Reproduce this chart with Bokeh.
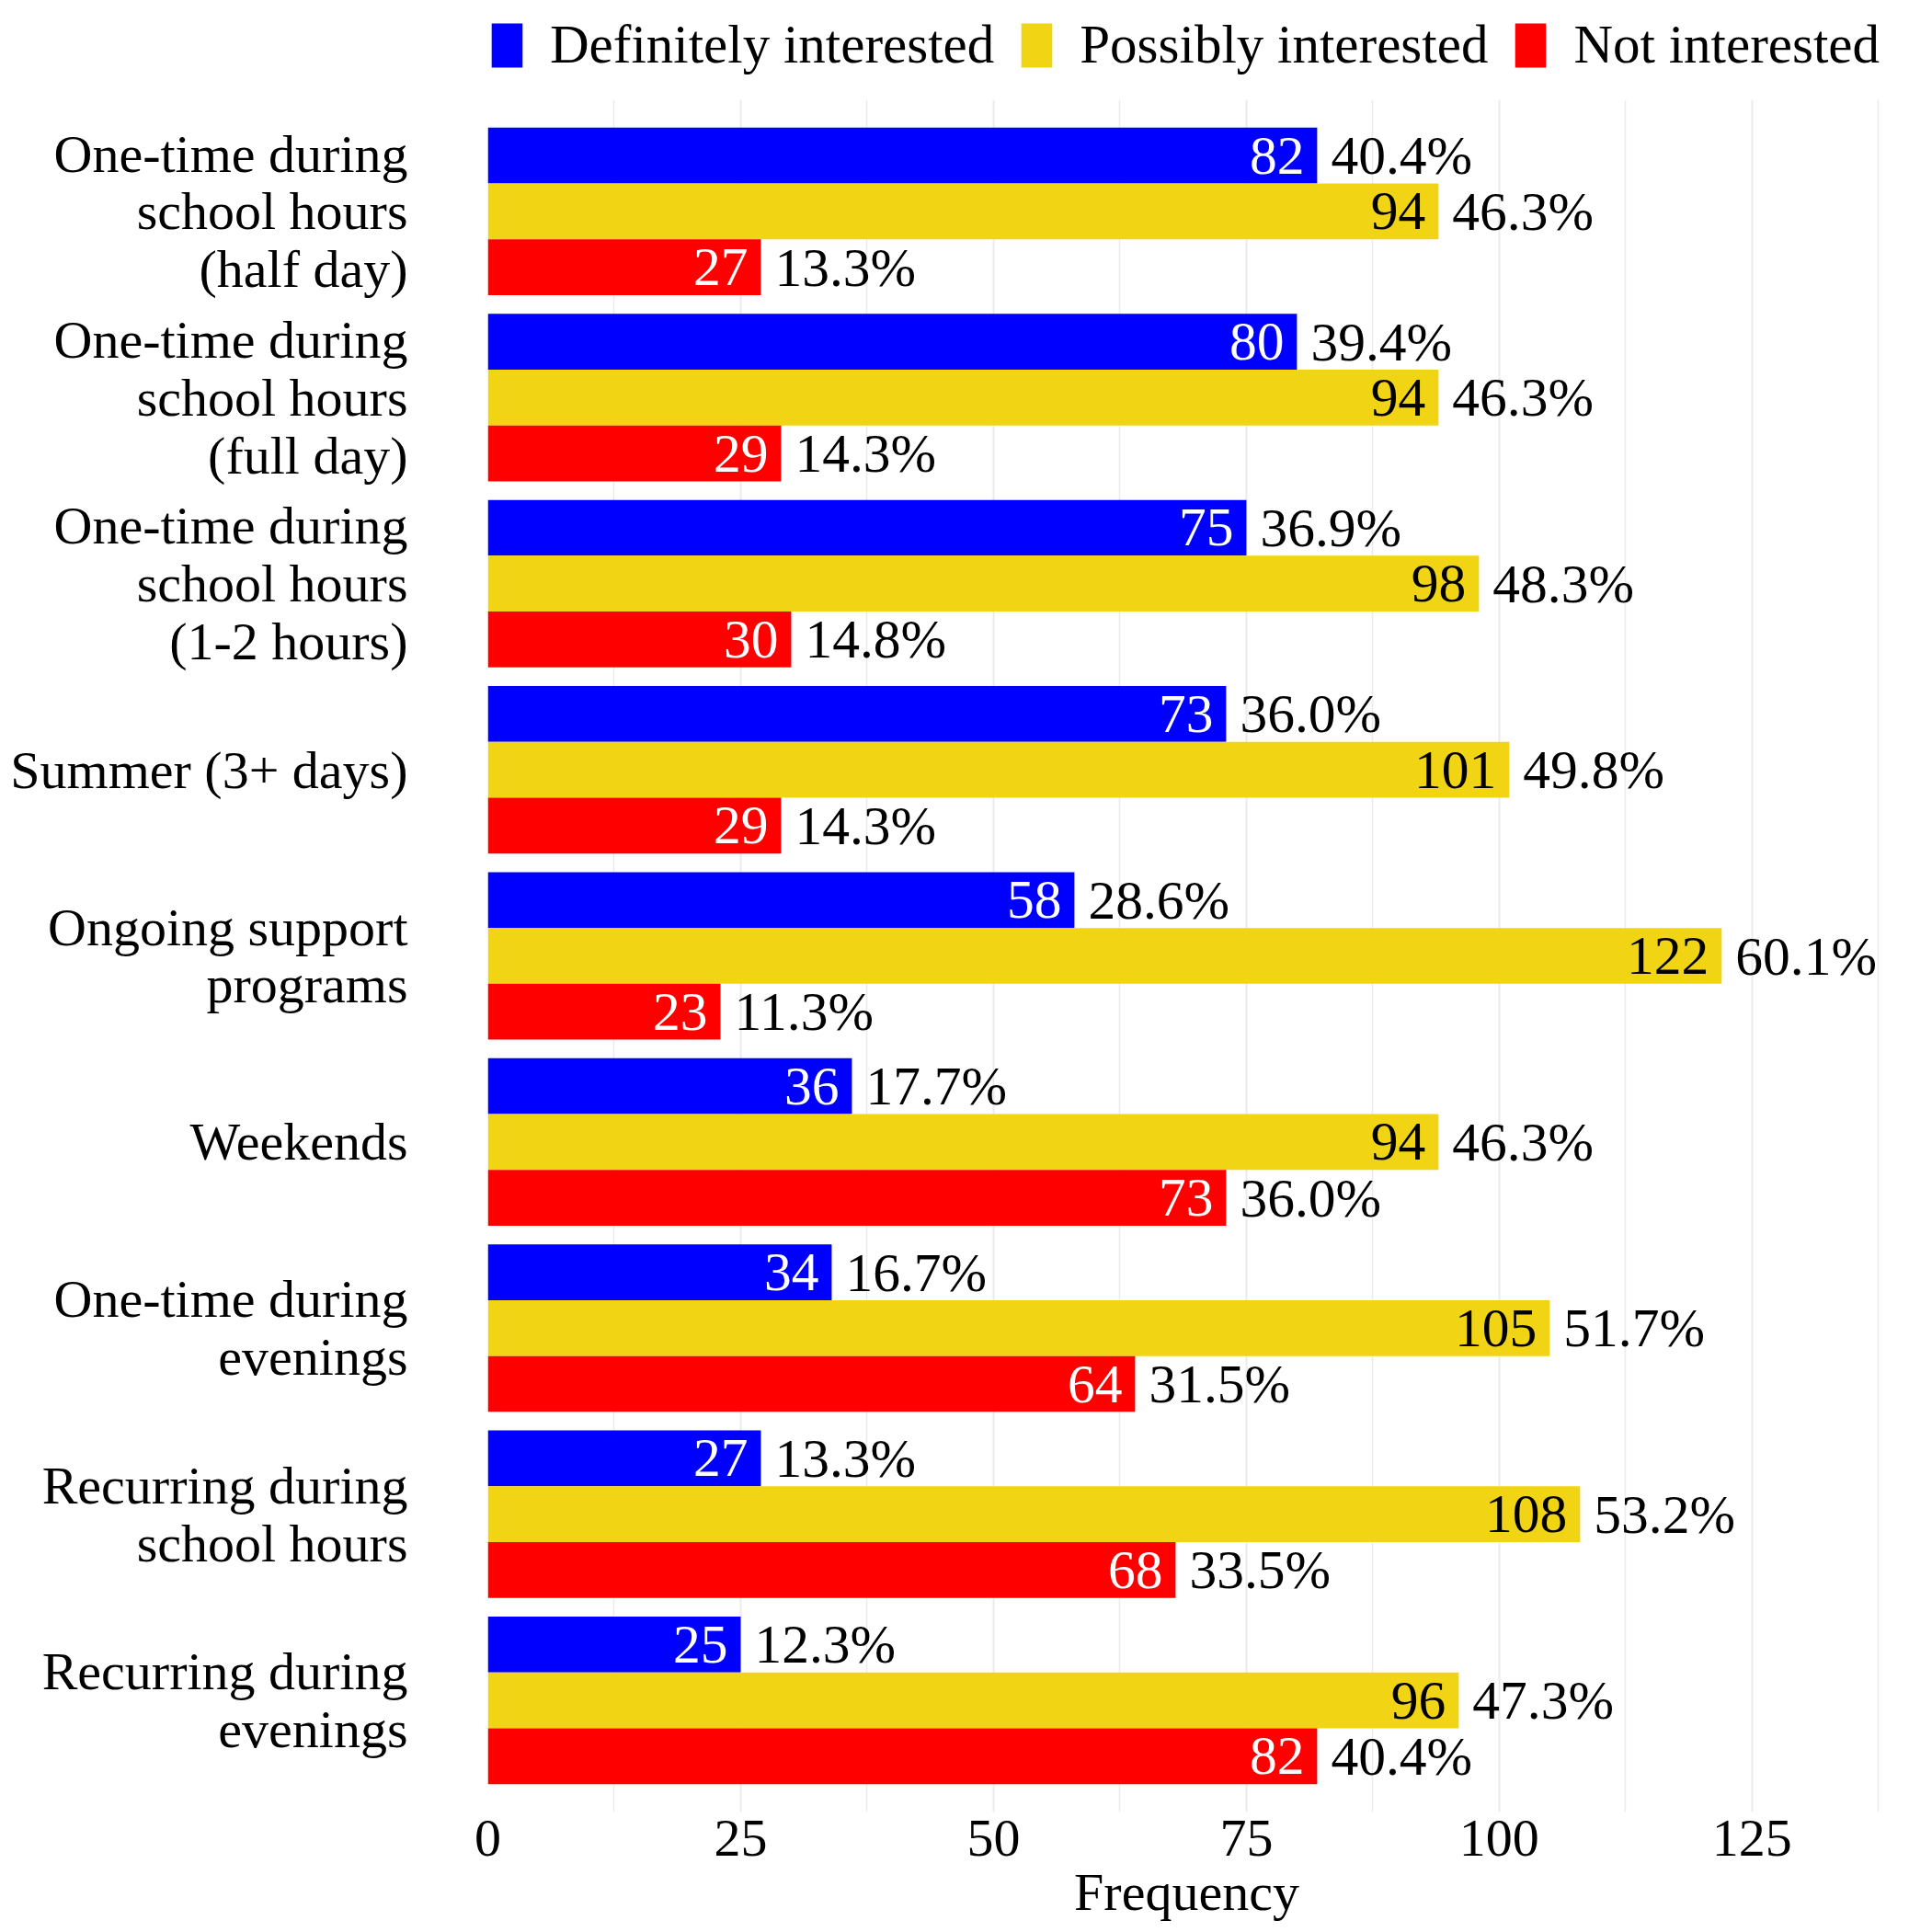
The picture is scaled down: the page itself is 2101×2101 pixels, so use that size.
from bokeh.plotting import figure
from bokeh.models import FactorRange, Range1d, FixedTicker, Legend, LegendItem, ColumnDataSource
from bokeh.transform import dodge
from bokeh.layouts import column
from bokeh.embed import file_html
from bokeh.resources import INLINE
from bokeh.core.properties import value

categories = [
    "One-time during\nschool hours\n(half day)",
    "One-time during\nschool hours\n(full day)",
    "One-time during\nschool hours\n(1-2 hours)",
    "Summer (3+ days)",
    "Ongoing support\nprograms",
    "Weekends",
    "One-time during\nevenings",
    "Recurring during\nschool hours",
    "Recurring during\nevenings",
]
definitely = [82, 80, 75, 73, 58, 36, 34, 27, 25]
possibly = [94, 94, 98, 101, 122, 94, 105, 108, 96]
not_interested = [27, 29, 30, 29, 23, 73, 64, 68, 82]
definitely_pct = ["40.4%", "39.4%", "36.9%", "36.0%", "28.6%", "17.7%", "16.7%", "13.3%", "12.3%"]
possibly_pct = ["46.3%", "46.3%", "48.3%", "49.8%", "60.1%", "46.3%", "51.7%", "53.2%", "47.3%"]
not_interested_pct = ["13.3%", "14.3%", "14.8%", "14.3%", "11.3%", "36.0%", "31.5%", "33.5%", "40.4%"]
series_names = ["Definitely interested", "Possibly interested", "Not interested"]
series_colors = ["#0000FF", "#F1D515", "#FF0000"]
count_label_colors = ["white", "black", "white"]
x_ticks = [0, 25, 50, 75, 100, 125]
x_minor = [12.5, 37.5, 62.5, 87.5, 112.5, 137.5]

FONT = "Liberation Serif"
FS = "58px"
FS_BAR = "59.5px"
FS_LEG = "59px"
W = 2101
TOP = 108

# ---- legend strip (its own small figure above the chart) ----
lf = figure(width=W, height=TOP, x_range=Range1d(0, 1), y_range=Range1d(0, 1),
            x_axis_type=None, y_axis_type=None, output_backend="svg", toolbar_location=None,
            min_border=0, min_border_left=0, min_border_right=0, min_border_top=0, min_border_bottom=0)
lf.outline_line_color = None
lf.xgrid.visible = False
lf.ygrid.visible = False
leg_items = []
for name, col in zip(series_names, series_colors):
    # zero-size proxy bar outside the strip's view, used only for the legend swatch
    proxy = lf.hbar(y=[-5], left=[0], right=[0], height=0.3, fill_color=col, line_color=None)
    leg_items.append(LegendItem(label=name, renderers=[proxy]))
legend = Legend(items=leg_items, orientation="horizontal", location=(0, 25),
                glyph_width=42, glyph_height=60, label_height=60, label_standoff=26, spacing=25,
                padding=0, margin=0, border_line_color=None, background_fill_alpha=0,
                label_text_font=FONT, label_text_font_size=FS_LEG, label_text_color="black")
lf.add_layout(legend)

# ---- main chart ----
p = figure(
    width=W, height=2101 - TOP,
    y_range=FactorRange(factors=categories[::-1], range_padding=0.1, range_padding_units="absolute"),
    x_range=Range1d(0, 138.2),
    output_backend="svg", toolbar_location=None,
    min_border_left=530, min_border_right=51, min_border_top=0, min_border_bottom=131,
)
p.outline_line_color = None
p.background_fill_color = "white"
p.border_fill_color = "white"

series = [
    (definitely, definitely_pct, 0.3),
    (possibly, possibly_pct, 0.0),
    (not_interested, not_interested_pct, -0.3),
]
for (vals, pcts, off), name, col, tcol in zip(series, series_names, series_colors, count_label_colors):
    src = ColumnDataSource(dict(cat=categories, val=vals, lab=[str(v) for v in vals], pct=pcts))
    yd = dodge("cat", off, range=p.y_range)
    p.hbar(y=yd, left=0, right="val", height=0.3, source=src, fill_color=col, line_color=None)
    p.text(x="val", y=yd, text="lab", source=src, text_align="right", text_baseline="middle",
           x_offset=-14, text_color=tcol, text_font=value(FONT), text_font_size=FS_BAR)
    p.text(x="val", y=yd, text="pct", source=src, text_align="left", text_baseline="middle",
           x_offset=15, text_color="black", text_font=value(FONT), text_font_size=FS_BAR)

p.xaxis.ticker = FixedTicker(ticks=x_ticks, minor_ticks=x_minor)
p.xaxis.axis_line_color = None
p.xaxis.major_tick_line_color = None
p.xaxis.minor_tick_line_color = None
p.xaxis.major_tick_out = 0
p.xaxis.minor_tick_out = 0
p.xaxis.major_label_standoff = 9
p.xaxis.major_label_text_font = FONT
p.xaxis.major_label_text_font_size = FS
p.xaxis.major_label_text_color = "black"
p.xaxis.axis_label = "Frequency"
p.xaxis.axis_label_text_font = FONT
p.xaxis.axis_label_text_font_size = FS
p.xaxis.axis_label_text_font_style = "normal"
p.xaxis.axis_label_text_color = "black"
p.xaxis.axis_label_standoff = 4

p.yaxis.axis_line_color = None
p.yaxis.major_tick_line_color = None
p.yaxis.minor_tick_line_color = None
p.yaxis.major_tick_out = 0
p.yaxis.minor_tick_out = 0
p.yaxis.major_label_standoff = 87
p.yaxis.major_label_text_font = FONT
p.yaxis.major_label_text_font_size = FS
p.yaxis.major_label_text_color = "black"
p.yaxis.major_label_text_line_height = 0.965

p.ygrid.grid_line_color = None
p.xgrid.grid_line_color = "#EBEBEB"
p.xgrid.grid_line_width = 2
p.xgrid.minor_grid_line_color = "#EBEBEB"
p.xgrid.minor_grid_line_width = 1.5

layout = column(lf, p, spacing=0)
open("out.html", "w").write(file_html(layout, INLINE))
